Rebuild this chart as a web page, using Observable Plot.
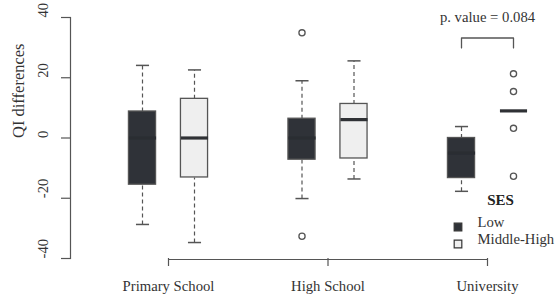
<!DOCTYPE html>
<html>
<head>
<meta charset="utf-8">
<script src="https://cdn.jsdelivr.net/npm/d3@7"></script>
<script src="https://cdn.jsdelivr.net/npm/@observablehq/plot@0.6"></script>
<style>
  html, body { margin: 0; padding: 0; background: #fff; }
  #chart svg { display: block; }
  #chart svg, #chart svg text { font-family: "Liberation Serif", "Times New Roman", serif !important; }
</style>
</head>
<body>
<div id="chart"></div>
<script>
// Education levels along the x axis and the two SES groups
const groups = ["Primary School", "High School", "University"];
const sesLevels = ["Low", "Middle-High"];
const sesColors = ["#2f3238", "#efefef"];

// Box statistics per education level: [lower whisker, Q1, median, Q3, upper whisker]
const lowStats = [
  [-28.7, -15.5, 0, 8.8, 24.1],
  [-20.1, -7.2, 0, 6.4, 19.0],
  [-17.7, -13.3, -5, 0, 3.8]
];
const midHighStats = [
  [-34.7, -13.1, 0, 13.0, 22.6],
  [-13.6, -6.8, 6.1, 11.3, 25.6],
  [9, 9, 9, 9, 9]
];

// Outlying values per education level
const lowOutliers = [[], [34.9, -32.6], []];
const midHighOutliers = [[], [], [21.3, 15.4, 3.2, -12.7]];

// Y axis ticks and the comparison annotation
const yTicks = [-40, -20, 0, 20, 40];
const pValue = 0.084;

// Tidy rows built from the arrays above
const boxes = [];
const outliers = [];
[lowStats, midHighStats].forEach((stats, si) => {
  stats.forEach(([lo, q1, med, q3, hi], gi) => {
    boxes.push({group: groups[gi], ses: sesLevels[si], gi, si, lo, q1, med, q3, hi});
  });
});
[lowOutliers, midHighOutliers].forEach((list, si) => {
  list.forEach((vals, gi) => {
    vals.forEach(v => outliers.push({group: groups[gi], ses: sesLevels[si], gi, si, value: v}));
  });
});

// Horizontal placement: each SES box sits either side of its education level
const offset = 0.163, halfBox = 0.085, halfCap = 0.041;
const cx = d => d.gi + (d.si === 0 ? -offset : offset);

// p-value bracket between the two University boxes
const uniLow = boxes.find(d => d.gi === 2 && d.si === 0);
const uniMid = boxes.find(d => d.gi === 2 && d.si === 1);
const bracketTop = 33.2, bracketFoot = 29.9;
const bracket = [
  {x: cx(uniLow), y: bracketFoot},
  {x: cx(uniLow), y: bracketTop},
  {x: cx(uniMid), y: bracketTop},
  {x: cx(uniMid), y: bracketFoot}
];

const font = "'Liberation Serif', 'Times New Roman', serif";
const ink = "#333";
const line = "#555";

const chart = Plot.plot({
  width: 555,
  height: 298,
  marginLeft: 70,
  marginRight: 0,
  marginTop: 17,
  marginBottom: 40,
  style: {fontFamily: font, fontSize: "14.7px", color: ink, background: "#fff"},
  x: {domain: [0, 2], range: [168, 487], axis: null},
  y: {domain: [-40, 40], range: [258, 17], axis: null},
  color: {domain: sesLevels, range: sesColors},
  marks: [
    // y axis line, tick marks and rotated tick labels
    Plot.frame({anchor: "left", stroke: line, strokeWidth: 1.2}),
    Plot.axisY({
      ticks: yTicks, tickSize: 9, tickFormat: () => null,
      stroke: line, strokeWidth: 1.2, label: null
    }),
    Plot.text(yTicks, {
      y: d => d, text: d => String(d), frameAnchor: "left", dx: -27, rotate: -90,
      fontSize: 14.7, fill: ink
    }),
    Plot.text(["QI differences"], {
      frameAnchor: "left", dx: -52, rotate: -90, fontSize: 16.5, fill: ink
    }),
    // x axis: bracket line spanning the levels, downward ticks and labels
    Plot.ruleY([-40], {x1: 0, x2: 2, dy: 1, stroke: line, strokeWidth: 1.2}),
    Plot.axisX({
      ticks: [0, 1, 2], tickSize: 8, tickPadding: 14,
      tickFormat: i => groups[i], stroke: line, strokeWidth: 1.2, fontSize: 14.7, label: null
    }),
    // dashed whiskers
    Plot.link(boxes, {
      x1: cx, x2: cx, y1: "q3", y2: "hi",
      stroke: line, strokeWidth: 1.2, strokeDasharray: "4,3"
    }),
    Plot.link(boxes, {
      x1: cx, x2: cx, y1: "lo", y2: "q1",
      stroke: line, strokeWidth: 1.2, strokeDasharray: "4,3"
    }),
    // whisker caps
    Plot.link(boxes, {
      x1: d => cx(d) - halfCap, x2: d => cx(d) + halfCap, y1: "hi", y2: "hi",
      stroke: line, strokeWidth: 1.5
    }),
    Plot.link(boxes, {
      x1: d => cx(d) - halfCap, x2: d => cx(d) + halfCap, y1: "lo", y2: "lo",
      stroke: line, strokeWidth: 1.5
    }),
    // interquartile boxes
    Plot.rect(boxes, {
      x1: d => cx(d) - halfBox, x2: d => cx(d) + halfBox, y1: "q1", y2: "q3",
      fill: "ses", stroke: line, strokeWidth: 1.3
    }),
    // medians
    Plot.link(boxes, {
      x1: d => cx(d) - halfBox, x2: d => cx(d) + halfBox, y1: "med", y2: "med",
      stroke: d => d.si === 0 ? "#2a2d32" : "#2f3135", strokeWidth: 3.2
    }),
    // outliers
    Plot.dot(outliers, {
      x: cx, y: "value", r: 3.1, stroke: line, strokeWidth: 1.3, fill: "#fff"
    }),
    // p-value bracket and label
    Plot.line(bracket, {x: "x", y: "y", stroke: line, strokeWidth: 1.3}),
    Plot.text([`p. value = ${pValue}`], {
      x: (cx(uniLow) + cx(uniMid)) / 2, y: 40, dy: 0, fontSize: 14.7, fill: ink
    }),
    // legend
    Plot.text(["SES"], {
      frameAnchor: "bottom-right", dx: -55, dy: -54, textAnchor: "middle",
      fontWeight: "bold", fontSize: 15, fill: "#222"
    }),
    Plot.dot(sesLevels.slice(0, 1), {
      frameAnchor: "bottom-right", dx: -97.5, dy: -31.5, symbol: "square", r: 4.3,
      fill: d => d, stroke: "#333", strokeWidth: 1.2
    }),
    Plot.dot(sesLevels.slice(1), {
      frameAnchor: "bottom-right", dx: -97.5, dy: -14.5, symbol: "square", r: 4.3,
      fill: d => d, stroke: "#333", strokeWidth: 1.2
    }),
    Plot.text(sesLevels.slice(0, 1), {
      frameAnchor: "bottom-right", dx: -78, dy: -31.5, textAnchor: "start", fontSize: 14.7, fill: ink
    }),
    Plot.text(sesLevels.slice(1), {
      frameAnchor: "bottom-right", dx: -78, dy: -14.5, textAnchor: "start", fontSize: 14.7, fill: ink
    })
  ]
});

document.getElementById("chart").appendChild(chart);
</script>
</body>
</html>
